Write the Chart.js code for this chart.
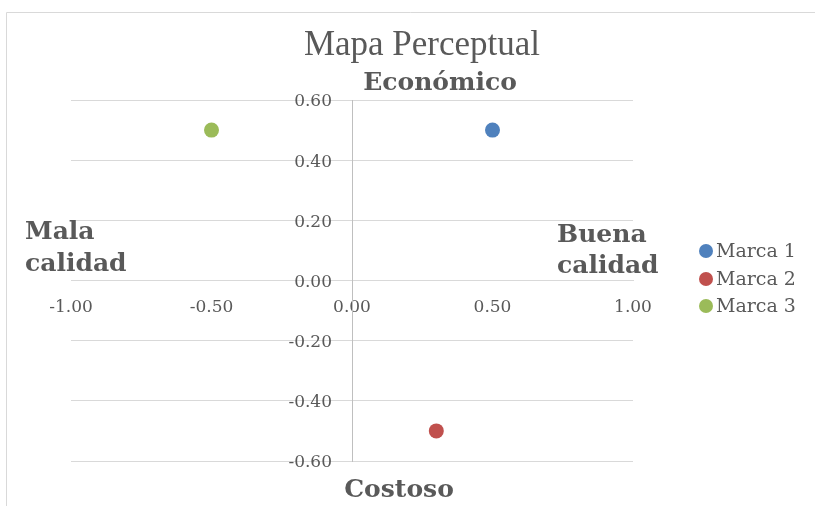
<!DOCTYPE html>
<html>
<head>
<meta charset="utf-8">
<script src="https://cdn.jsdelivr.net/npm/chart.js@4"></script>
<style>
  html, body { margin: 0; padding: 0; background: #fff; }
  #wrap { width: 815px; height: 506px; }
</style>
</head>
<body>
<div id="wrap"><canvas id="c" width="815" height="506"></canvas></div>
<script>
// Brands on the perceptual map
const brands = ['Marca 1', 'Marca 2', 'Marca 3'];
// Quality axis (x): negative = mala calidad, positive = buena calidad
const calidad = [0.50, 0.30, -0.50];
// Price axis (y): positive = económico, negative = costoso
const precio = [0.50, -0.50, 0.50];
const brandColors = ['#4f81bd', '#c0504d', '#9bbb59'];

// Axis ticks
const xTickValues = [-1.00, -0.50, 0.00, 0.50, 1.00];
const yTickValues = [-0.60, -0.40, -0.20, 0.00, 0.20, 0.40, 0.60];

// Texts
const chartTitle = 'Mapa Perceptual';
const poleTop = 'Económico';
const poleBottom = 'Costoso';
const poleLeft = ['Mala', 'calidad'];
const poleRight = ['Buena', 'calidad'];

const textGray = '#595959';
const serif = '"DejaVu Serif", Georgia, serif';

const fmt = v => (Math.abs(v) < 1e-9 ? 0 : v).toFixed(2);

const datasets = brands.map((name, i) => ({
  label: name,
  data: [{ x: calidad[i], y: precio[i] }],
  backgroundColor: brandColors[i],
  borderColor: brandColors[i],
  pointRadius: 7.5,
  pointHoverRadius: 7.5,
  borderWidth: 0
}));

const decorations = {
  id: 'decorations',
  beforeDraw(chart) {
    const ctx = chart.ctx;
    ctx.save();
    // outer frame (top and left edges)
    ctx.strokeStyle = '#d9d9d9';
    ctx.lineWidth = 1;
    ctx.beginPath();
    ctx.moveTo(6.5, 506);
    ctx.lineTo(6.5, 12.5);
    ctx.lineTo(815, 12.5);
    ctx.stroke();
    ctx.restore();
  },
  afterDraw(chart) {
    const ctx = chart.ctx;
    const xs = chart.scales.x, ys = chart.scales.y;
    ctx.save();
    ctx.fillStyle = textGray;

    // y tick labels, set off to the left of the vertical axis (which crosses at x = 0)
    ctx.font = '17px ' + serif;
    ctx.textAlign = 'right';
    ctx.textBaseline = 'middle';
    const axisX = xs.getPixelForValue(0);
    yTickValues.forEach(v => {
      ctx.fillText(fmt(v), axisX - 20, ys.getPixelForValue(v) + 2);
    });

    // title
    ctx.font = '35px "Liberation Serif", "Times New Roman", serif';
    ctx.textAlign = 'center';
    ctx.textBaseline = 'alphabetic';
    ctx.fillText(chartTitle, 422, 55);

    // pole labels
    ctx.font = 'bold 25px ' + serif;
    ctx.textAlign = 'center';
    ctx.fillText(poleTop, 440, 90);
    ctx.fillText(poleBottom, 399, 497);

    ctx.textAlign = 'left';
    ctx.fillText(poleLeft[0], 25, 239);
    ctx.fillText(poleLeft[1], 25, 271);
    ctx.fillText(poleRight[0], 557, 242);
    ctx.fillText(poleRight[1], 557, 273);

    // legend
    const legendY = [251, 279, 306];
    ctx.font = '19px ' + serif;
    ctx.textBaseline = 'middle';
    chart.data.datasets.forEach((ds, i) => {
      ctx.fillStyle = ds.backgroundColor;
      ctx.beginPath();
      ctx.arc(706, legendY[i], 7, 0, Math.PI * 2);
      ctx.fill();
      ctx.fillStyle = textGray;
      ctx.fillText(ds.label, 716, legendY[i] + 1);
    });
    ctx.restore();
  }
};

new Chart(document.getElementById('c'), {
  type: 'scatter',
  data: { datasets },
  options: {
    responsive: false,
    animation: false,
    events: [],
    layout: { padding: { left: 71, right: 182, top: 100, bottom: 45 } },
    plugins: {
      legend: { display: false },
      title: { display: false },
      tooltip: { enabled: false }
    },
    scales: {
      x: {
        type: 'linear',
        position: { y: 0 },
        min: -1, max: 1,
        afterBuildTicks: s => { s.ticks = xTickValues.map(v => ({ value: v })); },
        grid: { display: false, drawTicks: false },
        border: { display: true, color: '#d9d9d9', width: 1 },
        ticks: {
          padding: 17,
          color: textGray,
          font: { family: serif, size: 17 },
          callback: v => fmt(v),
          maxRotation: 0,
          autoSkip: false
        }
      },
      y: {
        type: 'linear',
        position: { x: 0 },
        min: -0.6, max: 0.6,
        afterBuildTicks: s => { s.ticks = yTickValues.map(v => ({ value: v })); },
        grid: { display: true, drawTicks: false, color: '#d9d9d9', lineWidth: 1 },
        border: { display: true, color: '#bfbfbf', width: 1 },
        ticks: { display: false }
      }
    }
  },
  plugins: [decorations]
});
</script>
</body>
</html>
